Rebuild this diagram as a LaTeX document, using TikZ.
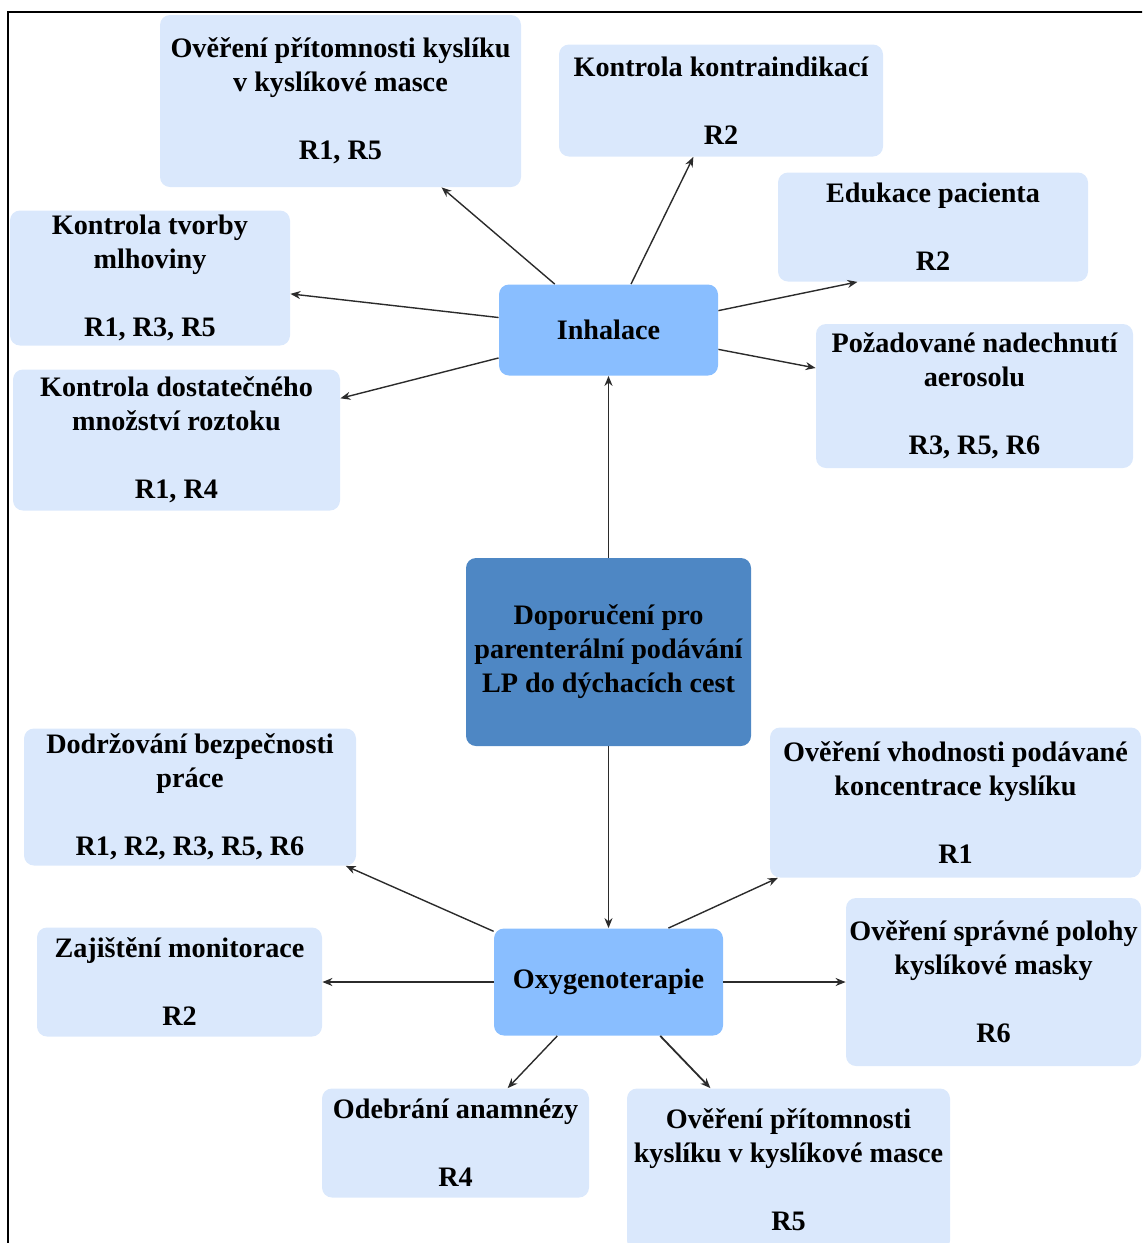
\documentclass[tikz,border=0pt]{standalone}
\usepackage{fontspec}
\setmainfont{Liberation Serif}[BoldFont={Liberation Serif Bold}]
\usetikzlibrary{arrows.meta}
\definecolor{leaf}{HTML}{DAE8FC}
\definecolor{mid}{HTML}{89BEFF}
\definecolor{core}{HTML}{4E87C4}
\definecolor{arrowc}{HTML}{2B2B2B}
\tikzset{
  box/.style={rectangle, rounded corners=5pt, inner sep=0pt, align=center,
    font=\fontsize{14.1}{17}\selectfont\bfseries, text=black},
  leafbox/.style={box, fill=leaf},
  midbox/.style={box, fill=mid},
  corebox/.style={box, fill=core},
  arr/.style={draw=arrowc, line width=0.7pt, -{Stealth[length=5pt,width=4pt]}},
}
\begin{document}
\begin{tikzpicture}[x=0.5pt,y=-0.5pt]
\useasboundingbox (0,0) rectangle (1142,1243);
\clip (0,0) rectangle (1142,1243);
\draw[line width=1pt] (8,1250) -- (8,12) -- (1150,12);

\node[leafbox, minimum width=180.5pt, minimum height=86pt] (b1) at (340.5,101)
  {Ověření přítomnosti kyslíku\\v kyslíkové masce\\[17pt]R1, R5};
\node[leafbox, minimum width=162pt, minimum height=56pt] (b2) at (721,100.5)
  {Kontrola kontraindikací\\[17pt]R2};
\node[leafbox, minimum width=155pt, minimum height=54.5pt] (b3) at (933,227)
  {Edukace pacienta\\[17pt]R2};
\node[leafbox, minimum width=140pt, minimum height=67.5pt] (b4) at (150,278)
  {Kontrola tvorby\\mlhoviny\\[17pt]R1, R3, R5};
\node[leafbox, minimum width=163.5pt, minimum height=70.5pt] (b5) at (176.5,440)
  {Kontrola dostatečného\\množství roztoku\\[17pt]R1, R4};
\node[leafbox, minimum width=158.5pt, minimum height=72pt] (b6) at (974.5,396)
  {Požadované nadechnutí\\aerosolu\\[17pt]R3, R5, R6};
\node[midbox, minimum width=109.5pt, minimum height=45.5pt] (inh) at (608.5,330)
  {Inhalace};
\node[corebox, minimum width=142.5pt, minimum height=94pt] (ctr) at (608.5,652)
  {Doporučení pro\\parenterální podávání\\LP do dýchacích cest};
\node[leafbox, minimum width=166pt, minimum height=68.5pt] (b9) at (190,797)
  {Dodržování bezpečnosti\\práce\\[17pt]R1, R2, R3, R5, R6};
\node[leafbox, minimum width=185.5pt, minimum height=75pt] (b10) at (955.5,802.5)
  {Ověření vhodnosti podávané\\koncentrace kyslíku\\[17pt]R1};
\node[leafbox, minimum width=142.5pt, minimum height=54.5pt] (b11) at (179.5,982)
  {Zajištění monitorace\\[17pt]R2};
\node[midbox, minimum width=114.5pt, minimum height=53.5pt] (oxy) at (608.5,982)
  {Oxygenoterapie};
\node[leafbox, minimum width=147.5pt, minimum height=84pt] (b13) at (993.5,982)
  {Ověření správné polohy\\kyslíkové masky\\[17pt]R6};
\node[leafbox, minimum width=133.5pt, minimum height=54.5pt] (b14) at (455.5,1143)
  {Odebrání anamnézy\\[17pt]R4};
\node[leafbox, minimum width=161.5pt, minimum height=81pt] (b15) at (788.5,1169.5)
  {Ověření přítomnosti\\kyslíku v kyslíkové masce\\[17pt]R5};

\draw[arr] (ctr) -- (inh);
\draw[arr] (ctr) -- (oxy);
\draw[arr] (inh) -- (b1);
\draw[arr] (inh) -- (b2);
\draw[arr] (inh.10.9) -- (b3.216.4);
\draw[arr] (inh) -- (b4);
\draw[arr] (inh) -- (b5);
\draw[arr] (inh.-10.4) -- (b6.170.1);
\draw[arr] (oxy) -- (b9);
\draw[arr] (oxy.42.5) -- (b10.203.5);
\draw[arr] (oxy) -- (b11);
\draw[arr] (oxy) -- (b13);
\draw[arr] (oxy) -- (b14);
\draw[arr, line width=0.9pt] (oxy) -- (b15);
\end{tikzpicture}
\end{document}
